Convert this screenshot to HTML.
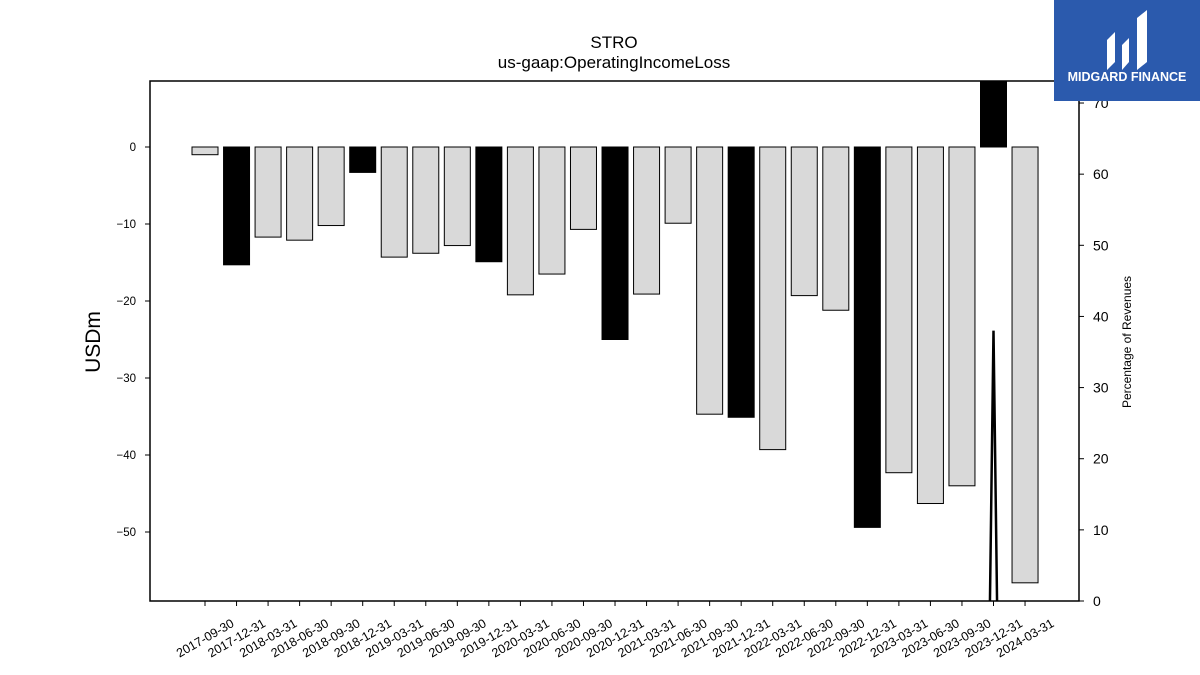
<!DOCTYPE html>
<html><head><meta charset="utf-8"><style>
html,body{margin:0;background:#fff;width:1200px;height:675px;overflow:hidden;}
svg{display:block;}
svg text{font-family:"Liberation Sans","DejaVu Sans",sans-serif;}
</style></head><body>
<svg id="chart" width="1200" height="675" xmlns="http://www.w3.org/2000/svg">
<rect width="1200" height="675" fill="#fff"/>
<text x="614" y="48" font-size="17" text-anchor="middle">STRO</text>
<text x="614" y="68" font-size="17" text-anchor="middle">us-gaap:OperatingIncomeLoss</text>
<g id="bars"></g>
<g id="line"></g>
<rect x="150" y="81" width="929" height="520" fill="none" stroke="#000" stroke-width="1.5"/>
<g id="ly"></g><g id="ry"></g><g id="xt"></g>
<text transform="translate(100,342) rotate(-90)" font-size="21" text-anchor="middle">USDm</text>
<text transform="translate(1131,342) rotate(-90)" font-size="12" text-anchor="middle">Percentage of Revenues</text>
<g>
<rect x="1054" y="0" width="146" height="101" fill="#2b5aad"/>
<path d="M1107 70 L1107 40 L1115 32 L1115 62 Z M1122 70 L1122 45 L1129 38 L1129 62 Z M1137 70 L1137 18 L1147 10 L1147 62 Z" fill="#fff"/>
<text x="1127" y="81" font-size="12.5" font-weight="bold" fill="#fff" text-anchor="middle">MIDGARD FINANCE</text>
</g>
</svg>
<script>
const categories=["2017-09-30","2017-12-31","2018-03-31","2018-06-30","2018-09-30","2018-12-31","2019-03-31","2019-06-30","2019-09-30","2019-12-31","2020-03-31","2020-06-30","2020-09-30","2020-12-31","2021-03-31","2021-06-30","2021-09-30","2021-12-31","2022-03-31","2022-06-30","2022-09-30","2022-12-31","2023-03-31","2023-06-30","2023-09-30","2023-12-31","2024-03-31"];
const values=[-1.0,-15.3,-11.7,-12.1,-10.2,-3.3,-14.3,-13.8,-12.8,-14.9,-19.2,-16.5,-10.7,-25.0,-19.1,-9.9,-34.7,-35.1,-39.3,-19.3,-21.2,-49.4,-42.3,-46.3,-44.0,12.0,-56.6];
const pctRevenue=[null,null,null,null,null,null,null,null,null,null,null,null,null,null,null,null,null,null,null,null,null,null,null,null,-300,38,-300];
const leftTicks=[0,-10,-20,-30,-40,-50];
const rightTicks=[0,10,20,30,40,50,60,70];
const NS="http://www.w3.org/2000/svg";
const X0=150,X1=1079,Y0=81,Y1=601;
const yL=v=>147-v*7.7;
const yR=v=>601-v*7.114;
const xC=i=>205+i*31.54;
function mk(t,a,p){const e=document.createElementNS(NS,t);for(const k in a)e.setAttribute(k,a[k]);p.appendChild(e);return e;}
const svg=document.getElementById('chart');
const defs=mk('defs',{},svg);const cp=mk('clipPath',{id:'pc'},defs);mk('rect',{x:X0,y:Y0,width:X1-X0,height:Y1-Y0},cp);
const bg=document.getElementById('bars');bg.setAttribute('clip-path','url(#pc)');
values.forEach((v,i)=>{const q4=categories[i].endsWith('12-31');
const y=Math.min(yL(v),yL(0)),h=Math.abs(yL(v)-yL(0));
const r=mk('rect',{x:xC(i)-13,y:y,width:26,height:h,fill:q4?'#000':'#d9d9d9',stroke:'#000','stroke-width':1},bg);

});
const lg=document.getElementById('line');lg.setAttribute('clip-path','url(#pc)');
let seg=[];const flush=()=>{if(seg.length>1){const p=mk('polyline',{points:seg.join(' '),fill:'none',stroke:'#000','stroke-width':2.5},lg);

}seg=[];};
pctRevenue.forEach((v,i)=>{if(v===null)flush();else seg.push(xC(i)+','+yR(v));});flush();
const ly=document.getElementById('ly');
leftTicks.forEach(t=>{const y=yL(t);mk('line',{x1:X0-5,x2:X0,y1:y,y2:y,stroke:'#000'},ly);
const tx=mk('text',{x:X0-14,y:y+4,'font-size':11.5,'text-anchor':'end'},ly);tx.textContent=(t<0?'\u2212':'')+Math.abs(t);

});
const ry=document.getElementById('ry');
rightTicks.forEach(t=>{const y=yR(t);mk('line',{x1:X1,x2:X1+5,y1:y,y2:y,stroke:'#000'},ry);
const tx=mk('text',{x:X1+14,y:y+5,'font-size':14},ry);tx.textContent=t;

});
const xt=document.getElementById('xt');
categories.forEach((c,i)=>{const x=xC(i);mk('line',{x1:x,x2:x,y1:Y1,y2:Y1+5,stroke:'#000'},xt);
const tx=mk('text',{transform:`translate(${x},${Y1+37}) rotate(-30)`,'font-size':12.5,'text-anchor':'middle',dy:'0.35em'},xt);tx.textContent=c;

});
</script>
</body></html>
